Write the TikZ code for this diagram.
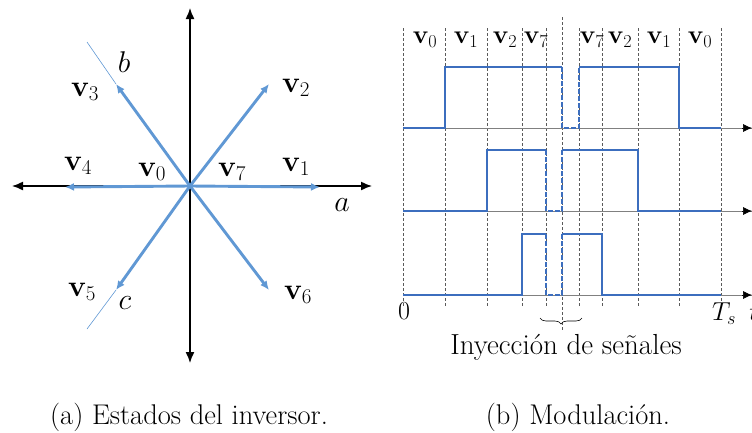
\RequirePackage{fix-cm}
\documentclass[tikz,border=0pt]{standalone}
\usepackage{amsmath}
\usetikzlibrary{arrows.meta,decorations.pathreplacing}
\definecolor{vecblue}{RGB}{96,152,212}
\definecolor{sigblue}{RGB}{60,110,190}
\definecolor{gridgray}{RGB}{90,90,90}
\tikzset{
  axisline/.style={line width=1.4pt,black,{Latex[length=11pt,width=9pt]}-{Latex[length=11pt,width=9pt]}},
  vecline/.style={line width=2.9pt,vecblue,-{Latex[length=9pt,width=8pt]}},
  thinvec/.style={line width=0.6pt,vecblue},
  biglabel/.style={font=\fontsize{30}{34}\selectfont,inner sep=0pt},
  toplabel/.style={font=\fontsize{26}{30}\selectfont,inner sep=0pt},
  gridline/.style={gridgray,line width=0.6pt,dash pattern=on 3pt off 2pt},
  sigsolid/.style={sigblue,line width=2.5pt},
  sigdash/.style={sigblue,line width=2.5pt,dash pattern=on 5pt off 2pt},
  taxis/.style={gray,line width=0.6pt},
  taxtip/.style={-{Latex[length=9pt,width=8pt]},black,line width=0.6pt},
  caption/.style={font=\fontsize{28.5}{33}\selectfont,inner sep=0pt}
}
\begin{document}
\begin{tikzpicture}[x=1pt,y=-1pt]
\useasboundingbox (0,0) rectangle (752,432);
% ---------- left panel ----------
\coordinate (O) at (190,186);
\coordinate (axT) at (190,8);
\coordinate (axB) at (190,363);
\coordinate (axL) at (12,186);
\coordinate (axR) at (372,186);
\draw[axisline] (axB) -- (axT);
\draw[axisline] (axL) -- (axR);
\coordinate (t1) at (320,187);
\coordinate (t2) at (269,84);
\coordinate (t3) at (116,84);
\coordinate (t4) at (65,187);
\coordinate (t5) at (116,290);
\coordinate (t6) at (269,290);
\coordinate (bEnd) at (87,42);
\coordinate (cEnd) at (87,329);
\draw[thinvec] (t3) -- (bEnd);
\draw[thinvec] (t5) -- (cEnd);
\foreach \t in {t1,t2,t3,t4,t5,t6} \draw[vecline] (O) -- (\t);
\node[biglabel] (lb) at (124,62) {$b$};
\node[biglabel] (lv3) at (85,92) {$\mathbf{v}_3$};
\node[biglabel] (lv2) at (296,88) {$\mathbf{v}_2$};
\node[biglabel] (lv4) at (78,166) {$\mathbf{v}_4$};
\node[biglabel] (lv0) at (152,172) {$\mathbf{v}_0$};
\node[biglabel] (lv7) at (232,172) {$\mathbf{v}_7$};
\node[biglabel] (lv1) at (296,167) {$\mathbf{v}_1$};
\node[biglabel] (la) at (342,205) {$a$};
\node[biglabel] (lv5) at (82,292) {$\mathbf{v}_5$};
\node[biglabel] (lc) at (125,303) {$c$};
\node[biglabel] (lv6) at (298,295) {$\mathbf{v}_6$};
% ---------- right panel ----------
\foreach \x in {403,445,487,522,546,579,602,638,679,721}
  \draw[gridline] (\x,28) -- (\x,307);
\draw[gridline] (562,17) -- (562,330);
% time axes
\foreach \y/\n in {128/1,211/2,295/3}{
  \coordinate (ax\n s) at (403,\y);
  \coordinate (ax\n e) at (752,\y);
  \draw[taxis] (ax\n s) -- (ax\n e);
  \draw[taxtip] (742,\y) -- (ax\n e);
}
% signal 1
\draw[sigsolid] (403,128) -- (445,128) -- (445,67) -- (562,67);
\draw[sigdash] (562,67) -- (562,128) -- (579,128) -- (579,67);
\draw[sigsolid] (579,67) -- (679,67) -- (679,128) -- (721,128);
% signal 2
\draw[sigsolid] (403,211) -- (487,211) -- (487,150) -- (546,150);
\draw[sigdash] (546,150) -- (546,211) -- (562,211) -- (562,150);
\draw[sigsolid] (562,150) -- (638,150) -- (638,211) -- (721,211);
% signal 3
\draw[sigsolid] (403,295) -- (522,295) -- (522,234) -- (546,234);
\draw[sigdash] (546,234) -- (546,295) -- (562,295) -- (562,234);
\draw[sigsolid] (562,234) -- (602,234) -- (602,295) -- (721,295);
% top labels
\node[toplabel] (s1) at (425,40) {$\mathbf{v}_0$};
\node[toplabel] (s2) at (466,40) {$\mathbf{v}_1$};
\node[toplabel] (s3) at (505,40) {$\mathbf{v}_2$};
\node[toplabel] (s4) at (536,40) {$\mathbf{v}_7$};
\node[toplabel] (s5) at (592,40) {$\mathbf{v}_7$};
\node[toplabel] (s6) at (620,40) {$\mathbf{v}_2$};
\node[toplabel] (s7) at (659,40) {$\mathbf{v}_1$};
\node[toplabel] (s8) at (700,40) {$\mathbf{v}_0$};
\node[toplabel] (zero) at (404,311) {$0$};
\node[toplabel] (Ts) at (724,314) {$T_s$};
\node[toplabel] (tlab) at (754,312) {$t$};
% brace
\coordinate (brL) at (540,318);
\coordinate (brR) at (582,318);
\draw[black,line width=0.6pt,decorate,decoration={brace,mirror,amplitude=6pt}] (brL) -- (brR);
\node[font=\fontsize{29}{33}\selectfont,inner sep=0pt] (iny) at (566,347) {Inyección de señales};
% captions
\node[caption] (capa) at (189,417) {(a) Estados del inversor.};
\node[caption] (capb) at (578,417) {(b) Modulación.};
\end{tikzpicture}
\end{document}
